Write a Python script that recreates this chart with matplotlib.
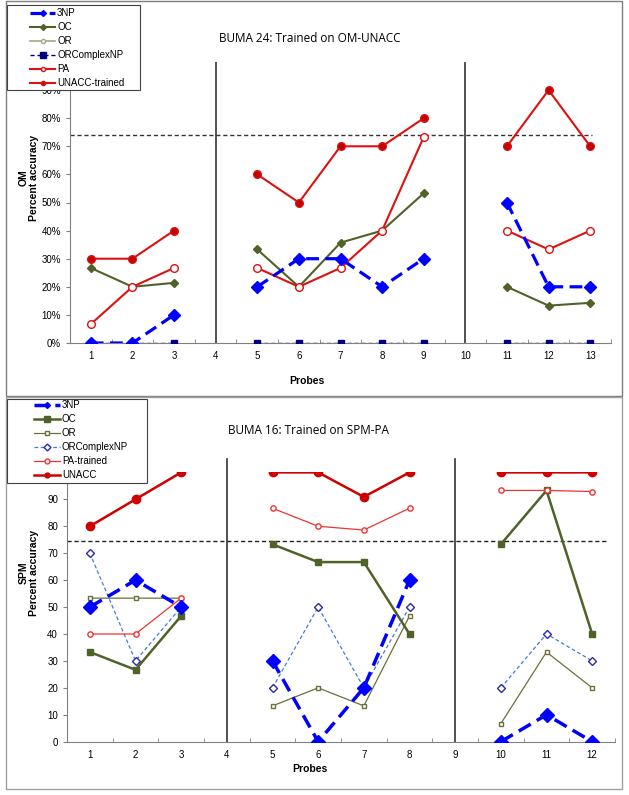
import numpy as np
import matplotlib
matplotlib.use("Agg")
import matplotlib.pyplot as plt
from matplotlib.patches import Rectangle
from matplotlib.lines import Line2D

nan = np.nan

# ---------- Top panel (OM) ----------
om_probes = list(range(1, 14))
om_3np = [0, 0, 10, nan, 20, 30, 30, 20, 30, nan, 50, 20, 20]
om_oc = [26.7, 20, 21.4, nan, 33.3, 20, 35.7, 40, 53.3, nan, 20, 13.3, 14.3]
om_or = [nan] * 13
om_orc = [0, 0, 0, nan, 0, 0, 0, 0, 0, nan, 0, 0, 0]
om_pa = [6.7, 20, 26.7, nan, 26.7, 20, 26.7, 40, 73.3, nan, 40, 33.3, 40]
om_unacc = [30, 30, 40, nan, 60, 50, 70, 70, 80, nan, 70, 90, 70]
om_yticks = list(range(0, 91, 10))
om_ytick_labels = [f"{v}%" for v in om_yticks]
om_separators = [4, 10]
om_criterion = 74
om_legend = ['3NP', 'OC', 'OR', 'ORComplexNP', 'PA', 'UNACC-trained']

# ---------- Bottom panel (SPM) ----------
spm_probes = list(range(1, 13))
spm_3np = [50, 60, 50, nan, 30, 0, 20, 60, nan, 0, 10, 0]
spm_oc = [33.3, 26.7, 46.7, nan, 73.3, 66.7, 66.7, 40, nan, 73.3, 93.3, 40]
spm_or = [53.3, 53.3, 53.3, nan, 13.3, 20, 13.3, 46.7, nan, 6.7, 33.3, 20]
spm_orc = [70, 30, 50, nan, 20, 50, 20, 50, nan, 20, 40, 30]
spm_pa = [40, 40, 53.3, nan, 86.7, 80, 78.6, 86.7, nan, 93.3, 93.3, 92.9]
spm_unacc = [80, 90, 100, nan, 100, 100, 90.9, 100, nan, 100, 100, 100]
spm_yticks = list(range(0, 91, 10))
spm_separators = [4, 9]
spm_criterion = 74.5
spm_legend = ['3NP', 'OC', 'OR', 'ORComplexNP', 'PA-trained', 'UNACC']

plt.rcParams['font.family'] = ['Liberation Sans', 'DejaVu Sans']

W, H = 629, 795
fig = plt.figure(figsize=(W / 100, H / 100), dpi=100)

def fx(px):
    return px / W

def fy(py):
    return 1 - py / H

# panel borders
fig.patches.append(Rectangle((fx(6), fy(396)), fx(622) - fx(6), fy(1) - fy(396),
                             transform=fig.transFigure, fill=False, ec='#7f7f7f', lw=1.0))
fig.patches.append(Rectangle((fx(6), fy(789)), fx(622) - fx(6), fy(397) - fy(789),
                             transform=fig.transFigure, fill=False, ec='#a0a0a0', lw=1.0))

BLUE = '#0000FF'
OLIVE = '#4F6228'
LIGHTOLIVE = '#A0A888'
NAVY = '#00007F'
RED = '#DD1111'
DARKRED = '#C00000'
DASH3NP = (0, (4, 2))

def style_axes(ax, xmax, yticks):
    for s in ['top', 'right']:
        ax.spines[s].set_visible(False)
    ax.spines['left'].set_color('#808080')
    ax.spines['bottom'].set_color('#808080')
    ax.set_xlim(0.5, xmax + 0.5)
    ax.set_ylim(0, 100)
    ax.set_yticks(yticks)
    ax.set_xticks(range(1, xmax + 1))
    ax.set_xticks(np.arange(0.5, xmax + 1, 1.0), minor=True)
    ax.tick_params(axis='x', which='major', length=0, labelsize=7, pad=6)
    ax.tick_params(axis='x', which='minor', length=3, direction='in', color='#808080')
    ax.tick_params(axis='y', which='major', length=3, direction='out', labelsize=7, color='#808080')

# ---------- Top axes ----------
ax1 = fig.add_axes([fx(70), fy(343), fx(611) - fx(70), fy(62) - fy(343)])
style_axes(ax1, 13, om_yticks)
ax1.set_yticklabels(om_ytick_labels)

for s in om_separators:
    ax1.axvline(s, color='#333333', lw=1.2, zorder=1)
ax1.hlines(om_criterion, 0.5, 13.05, colors='#333333', linestyles=(0, (3, 2)), lw=1.0, zorder=1)

top_styles = [
    dict(color=BLUE, ls=DASH3NP, lw=2.3, marker='D', ms=6.5, mfc=BLUE, mec=BLUE),
    dict(color=OLIVE, ls='-', lw=1.5, marker='D', ms=4, mfc=OLIVE, mec=OLIVE),
    dict(color=LIGHTOLIVE, ls='-', lw=1.2, marker='o', ms=3.5, mfc='white', mec=LIGHTOLIVE),
    dict(color=NAVY, ls=(0, (3, 2)), lw=1.0, marker='s', ms=4, mfc=NAVY, mec=NAVY),
    dict(color=RED, ls='-', lw=1.5, marker='o', ms=5.5, mfc='white', mec=RED),
    dict(color=RED, ls='-', lw=1.5, marker='o', ms=5.5, mfc=DARKRED, mec=RED),
]
top_series = [om_3np, om_oc, om_or, om_orc, om_pa, om_unacc]
top_z = [6, 4, 4, 3, 5, 5]
x = np.array(om_probes)
for ys, st, z in zip(top_series, top_styles, top_z):
    ax1.plot(x, ys, zorder=z, **st)

fig.text(fx(310), fy(38), 'BUMA 24: Trained on OM-UNACC', ha='center', va='center',
         fontsize=8.5, family=['Open Sans', 'DejaVu Sans'])
fig.text(fx(29), fy(178), 'OM\nPercent accuracy', ha='center', va='center', rotation=90,
         fontsize=7.5, fontweight='bold', linespacing=1.1)
fig.text(fx(307), fy(381), 'Probes', ha='center', va='center', fontsize=7.5, fontweight='bold')

def manual_legend(box, rows_y, x0, x1, tx, labels, styles, legend_ms):
    bx0, by0, bx1, by1 = box
    fig.patches.append(Rectangle((fx(bx0), fy(by1)), fx(bx1) - fx(bx0), fy(by0) - fy(by1),
                                 transform=fig.transFigure, fc='white', ec='#404040',
                                 lw=0.8, zorder=20))
    for yy, lab, st, ms in zip(rows_y, labels, styles, legend_ms):
        st2 = dict(st)
        st2['ms'] = ms
        fig.lines.append(Line2D([fx(x0), fx(x1)], [fy(yy), fy(yy)], transform=fig.transFigure,
                                zorder=21, **{k: v for k, v in st2.items() if k not in ('marker', 'ms', 'mfc', 'mec')}))
        fig.lines.append(Line2D([fx((x0 + x1) / 2)], [fy(yy)], transform=fig.transFigure,
                                ls='none', marker=st2['marker'], ms=ms, mfc=st2['mfc'],
                                mec=st2['mec'], zorder=22))
        fig.text(fx(tx), fy(yy), lab, ha='left', va='center', fontsize=7, zorder=23)

manual_legend((7, 5, 140, 90), [13, 27, 41, 55, 69, 83], 30, 55, 57,
              om_legend, top_styles, [3, 3, 3, 4, 3, 3])

# ---------- Bottom axes ----------
ax2 = fig.add_axes([fx(67), fy(741.7), fx(615) - fx(67), fy(472.4) - fy(741.7)])
style_axes(ax2, 12, spm_yticks)

for s in spm_separators:
    ax2.plot([s, s], [0, 105], color='#333333', lw=1.2, zorder=1, clip_on=False)
ax2.hlines(spm_criterion, 0.5, 12.33, colors='#222222', linestyles=(0, (3, 2)), lw=1.0, zorder=1)

bot_styles = [
    dict(color=BLUE, ls=DASH3NP, lw=2.5, marker='D', ms=7, mfc=BLUE, mec=BLUE),
    dict(color=OLIVE, ls='-', lw=1.8, marker='s', ms=5, mfc=OLIVE, mec=OLIVE),
    dict(color='#6B7038', ls='-', lw=0.9, marker='s', ms=3.5, mfc='white', mec='#6B7038'),
    dict(color='#3E7FD0', ls=(0, (3, 2)), lw=0.9, marker='D', ms=4, mfc='white', mec='#2A2AB0'),
    dict(color='#EE3333', ls='-', lw=0.9, marker='o', ms=3.8, mfc='white', mec='#EE3333'),
    dict(color='#D00000', ls='-', lw=1.8, marker='o', ms=6, mfc='#D00000', mec='#D00000'),
]
bot_series = [spm_3np, spm_oc, spm_or, spm_orc, spm_pa, spm_unacc]
bot_z = [6, 4, 3, 3, 4, 5]
x2 = np.array(spm_probes)
for ys, st, z in zip(bot_series, bot_styles, bot_z):
    ax2.plot(x2, ys, zorder=z, **st)

fig.text(fx(308), fy(430), 'BUMA 16: Trained on SPM-PA', ha='center', va='center',
         fontsize=8.5, family=['Open Sans', 'DejaVu Sans'])
fig.text(fx(29), fy(573), 'SPM\nPercent accuracy', ha='center', va='center', rotation=90,
         fontsize=7.5, fontweight='bold', linespacing=1.1)
fig.text(fx(310), fy(769), 'Probes', ha='center', va='center', fontsize=7.5, fontweight='bold')

manual_legend((7, 399, 147, 483), [405, 419, 433, 447, 461, 475], 34, 60, 62,
              spm_legend, bot_styles, [3, 4, 3.5, 3.5, 3.5, 3.5])

fig.savefig('out.png', dpi=100)
